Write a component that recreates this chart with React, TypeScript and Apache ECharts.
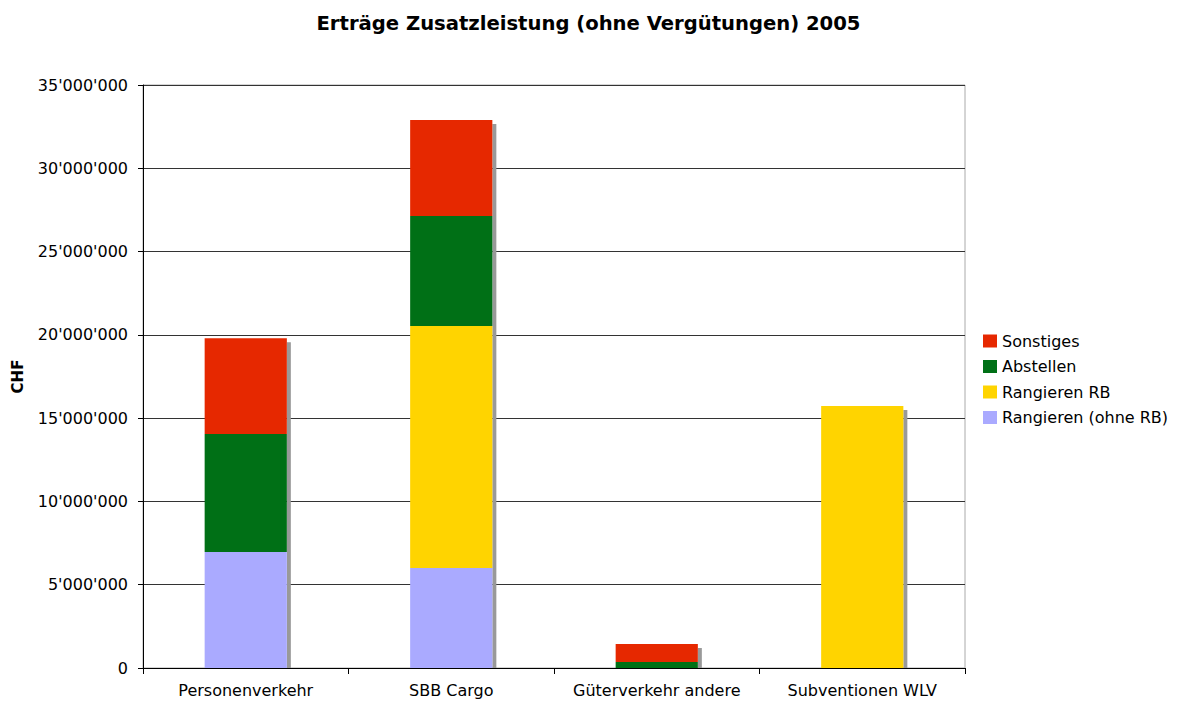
import React, { useEffect, useRef } from "react";
import * as echarts from "echarts";

const categories = ["Personenverkehr", "SBB Cargo", "Güterverkehr andere", "Subventionen WLV"];
const rangierenOhneRB = [6960000, 6000000, 0, 0];
const rangierenRB = [0, 14530000, 0, 15730000];
const abstellen = [7090000, 6600000, 360000, 0];
const sonstiges = [5750000, 5770000, 1080000, 0];
const seriesNames = ["Rangieren (ohne RB)", "Rangieren RB", "Abstellen", "Sonstiges"];
const seriesColors = ["#AAAAFF", "#FFD400", "#007016", "#E62800"];
const legendOrder = ["Sonstiges", "Abstellen", "Rangieren RB", "Rangieren (ohne RB)"];

const fmt = (v: number) => String(v).replace(/\B(?=(\d{3})+(?!\d))/g, "'");

export default function App() {
  const ref = useRef<HTMLDivElement>(null);
  useEffect(() => {
    if (!ref.current) return;
    const chart = echarts.init(ref.current, undefined, { renderer: "svg" });
    const allData = [rangierenOhneRB, rangierenRB, abstellen, sonstiges];
    const totals = categories.map((_, i) => allData.reduce((s, arr) => s + arr[i], 0));
    const font = "DejaVu Sans, Verdana, sans-serif";
    chart.setOption({
      animation: false,
      backgroundColor: "#fff",
      title: {
        text: "Erträge Zusatzleistung (ohne Vergütungen) 2005",
        left: "center",
        top: 8,
        textStyle: { fontFamily: font, fontSize: 19.6, fontWeight: "bold", color: "#000" },
      },
      legend: {
        orient: "vertical",
        left: 983,
        top: 333,
        padding: 0,
        itemWidth: 14,
        itemHeight: 13,
        itemGap: 9.5,
        icon: "rect",
        data: legendOrder,
        textStyle: { fontFamily: font, fontSize: 16, color: "#000" },
      },
      grid: {
        left: 143,
        right: 212,
        top: 85,
        bottom: 33,
        show: true,
        borderColor: "#aaa",
        borderWidth: 1,
      },
      xAxis: {
        type: "category",
        data: categories,
        axisLine: { lineStyle: { color: "#000", width: 1 } },
        axisTick: { show: true, length: 6, lineStyle: { color: "#000" } },
        axisLabel: { fontFamily: font, fontSize: 16, color: "#000", margin: 14, interval: 0 },
      },
      yAxis: {
        type: "value",
        min: 0,
        max: 35000000,
        interval: 5000000,
        name: "CHF",
        nameLocation: "middle",
        nameGap: 118,
        nameTextStyle: { fontFamily: font, fontSize: 15, fontWeight: "bold", color: "#000" },
        axisLine: { show: true, lineStyle: { color: "#000", width: 1 } },
        axisTick: { show: true, length: 5, lineStyle: { color: "#000" } },
        splitLine: { show: true, lineStyle: { color: "#333", width: 1 } },
        axisLabel: { fontFamily: font, fontSize: 16, color: "#000", margin: 15, formatter: (v: number) => fmt(v) },
      },
      series: [
        {
          type: "custom",
          name: "shadow",
          z: 1,
          silent: true,
          data: categories.map((_, i) => [i, totals[i]]),
          renderItem: (params: any, api: any) => {
            const top = api.coord([api.value(0), api.value(1)]);
            const bottom = api.coord([api.value(0), 0]);
            const bw = api.size([1, 0])[0] * 0.4;
            return {
              type: "rect",
              shape: { x: top[0] + bw / 2, y: top[1] + 4, width: 4, height: Math.max(0, bottom[1] - top[1] - 4) },
              style: { fill: "#999999" },
            };
          },
        },
        ...seriesNames.map((name, k) => ({
          type: "bar",
          name,
          stack: "total",
          barWidth: "40%",
          z: 2,
          data: allData[k],
          itemStyle: { color: seriesColors[k] },
        })),
      ],
    });
    return () => chart.dispose();
  }, []);
  return <div ref={ref} style={{ position: "fixed", left: 0, top: 0, width: 1177, height: 701 }} />;
}
